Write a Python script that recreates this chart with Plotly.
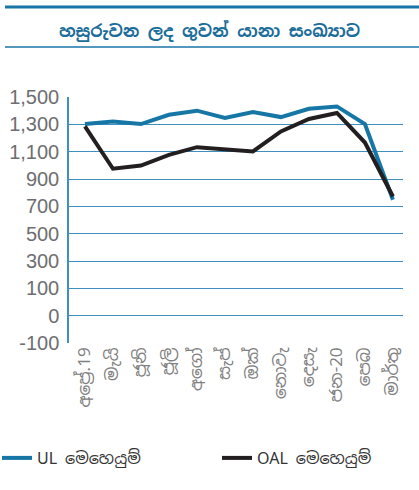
import plotly.graph_objects as go

months = ["අප්‍රේ.19", "මැයි", "ජූනි", "ජූලි", "අගෝ", "සැප්", "ඔක්", "නොවැ", "දෙසැ", "ජන-20", "පෙබ", "මාර්තු"]
ul_ops = [1302, 1321, 1302, 1370, 1400, 1346, 1390, 1353, 1414, 1431, 1302, 748]
oal_ops = [1285, 975, 998, 1077, 1133, 1114, 1102, 1248, 1339, 1383, 1167, 772]
y_tick_vals = [1500, 1300, 1100, 900, 700, 500, 300, 100, -100, -300]
y_tick_text = ["1,500", "1,300", "1,100", "900", "700", "500", "300", "100", "0", "-100"]

title = "හසුරුවන ලද ගුවන් යානා සංඛ්‍යාව"
GRID = "#3f8fbf"

W, H = 419, 490
L, R, T, B = 69, 16, 97, 147
pw, ph = W - L - R, H - T - B

def px(x):
    return (x - L) / pw

def py(y):
    return (H - B - y) / ph

fig = go.Figure()
fig.add_trace(go.Scatter(x=months, y=ul_ops, mode="lines", name="UL මෙහෙයුම්",
                         line=dict(color="#1677a6", width=4), legend="legend"))
fig.add_trace(go.Scatter(x=months, y=oal_ops, mode="lines", name="OAL මෙහෙයුම්",
                         line=dict(color="#231f20", width=4), legend="legend2"))

leg_common = dict(orientation="h", yanchor="middle", xanchor="left", itemwidth=30,
                  font=dict(size=16, color="#333333"), bgcolor="rgba(0,0,0,0)",
                  borderwidth=0)

fig.update_layout(
    width=W, height=H,
    margin=dict(l=L, r=R, t=T, b=B, autoexpand=False),
    paper_bgcolor="white", plot_bgcolor="white",
    font=dict(family="Noto Sans Sinhala, Liberation Sans, Arial, sans-serif", color="#666666"),
    title=dict(text="<b>" + title + "</b>", x=0.5, xanchor="center", xref="container",
               y=1 - 31 / H, yanchor="middle", yref="container", automargin=False,
               font=dict(size=17, color="#1b6d9a")),
    xaxis=dict(type="category", range=[-0.57, 11.36], tickangle=-90, showgrid=False,
               showline=False, ticks="", automargin=False,
               tickfont=dict(size=17, color="#808080"), zeroline=False),
    yaxis=dict(range=[-300, 1500], tickvals=y_tick_vals, ticktext=y_tick_text,
               showgrid=True, gridcolor=GRID, gridwidth=1, zeroline=False, automargin=False,
               showline=True, linecolor=GRID, linewidth=1.5, ticks="", ticklabelstandoff=4,
               tickfont=dict(size=20, color="#6d6e71", family="Liberation Sans, Arial, sans-serif")),
    showlegend=True,
    legend=dict(x=px(-3), y=py(458), **leg_common),
    legend2=dict(x=px(217), y=py(458), **leg_common),
    shapes=[
        dict(type="line", xref="paper", yref="paper", x0=px(5), x1=px(419), y0=py(7), y1=py(7),
             line=dict(color="#1b75a6", width=3)),
        dict(type="line", xref="paper", yref="paper", x0=px(5), x1=px(419), y0=py(47), y1=py(47),
             line=dict(color="#1b75a6", width=1.5)),
    ],
)

fig.write_html("out.html", config={"displayModeBar": False},
               post_script="document.body.style.margin='0';document.body.style.overflow='hidden';")
